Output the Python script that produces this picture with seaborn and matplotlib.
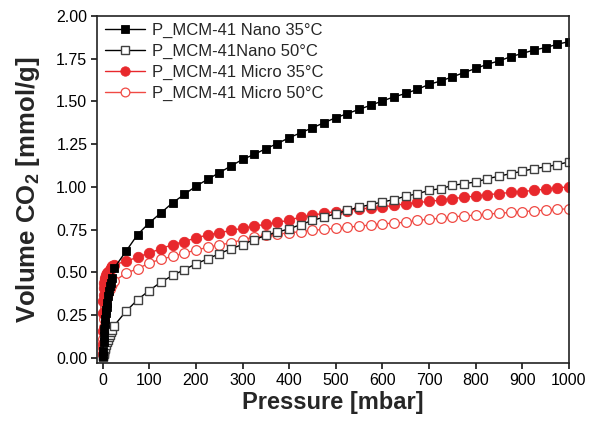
import numpy as np
import pandas as pd
import matplotlib
matplotlib.use("Agg")
import matplotlib.pyplot as plt
import seaborn as sns

# ---------------- data ----------------
p_grid = [25, 50, 75, 100, 125, 150, 175, 200, 225, 250, 275, 300, 325, 350, 375,
          400, 425, 450, 475, 500, 525, 550, 575, 600, 625, 650, 675, 700, 725, 750,
          775, 800, 825, 850, 875, 900, 925, 950, 975, 1000]

nano35_p_low = [0.5, 1, 2, 3, 4, 5, 6, 7, 8, 9, 10, 12, 14, 16, 18, 20]
nano35_v_low = [0.01, 0.04, 0.09, 0.13, 0.17, 0.20, 0.23, 0.26, 0.28, 0.30, 0.32,
                0.36, 0.39, 0.42, 0.44, 0.47]
nano35_v = [0.526, 0.623, 0.721, 0.790, 0.848, 0.907, 0.956, 1.004, 1.044, 1.083,
            1.122, 1.161, 1.190, 1.224, 1.254, 1.288, 1.317, 1.346, 1.376, 1.405,
            1.429, 1.454, 1.478, 1.503, 1.527, 1.547, 1.571, 1.600, 1.620, 1.644,
            1.669, 1.693, 1.718, 1.737, 1.762, 1.781, 1.801, 1.815, 1.835, 1.850]

nano50_p_low = [0.5, 1, 2, 3, 4, 5, 6, 8, 10, 12, 14, 16, 18, 20]
nano50_v_low = [0.005, 0.01, 0.02, 0.03, 0.04, 0.05, 0.06, 0.075, 0.09, 0.105,
                0.12, 0.135, 0.15, 0.165]
nano50_v = [0.189, 0.272, 0.340, 0.394, 0.443, 0.482, 0.516, 0.550, 0.579, 0.609,
            0.638, 0.663, 0.692, 0.716, 0.736, 0.755, 0.780, 0.804, 0.824, 0.843,
            0.863, 0.882, 0.897, 0.912, 0.926, 0.946, 0.960, 0.980, 0.990, 1.009,
            1.019, 1.029, 1.048, 1.063, 1.078, 1.092, 1.107, 1.117, 1.131, 1.146]

micro35_p_low = [0.2, 0.4, 0.6, 1, 1.5, 2, 3, 4, 5, 6, 8, 10, 12, 15, 18, 21]
micro35_v_low = [0.02, 0.08, 0.16, 0.26, 0.33, 0.37, 0.41, 0.44, 0.455, 0.47,
                 0.485, 0.495, 0.505, 0.515, 0.525, 0.535]
micro35_v = [0.545, 0.565, 0.589, 0.614, 0.638, 0.663, 0.680, 0.702, 0.719, 0.731,
             0.746, 0.758, 0.770, 0.782, 0.792, 0.806, 0.824, 0.835, 0.846, 0.856,
             0.862, 0.871, 0.877, 0.882, 0.893, 0.900, 0.909, 0.915, 0.923, 0.932,
             0.939, 0.947, 0.954, 0.961, 0.968, 0.973, 0.980, 0.987, 0.995, 1.000]

micro50_p_low = [0.3, 0.6, 1, 2, 3, 4, 5, 6, 8, 10, 12, 15, 18, 21]
micro50_v_low = [0.02, 0.06, 0.11, 0.18, 0.23, 0.26, 0.29, 0.31, 0.34, 0.36, 0.38,
                 0.40, 0.42, 0.435]
micro50_v = [0.448, 0.496, 0.521, 0.555, 0.577, 0.594, 0.612, 0.631, 0.646, 0.661,
             0.672, 0.692, 0.706, 0.716, 0.724, 0.731, 0.739, 0.746, 0.752, 0.758,
             0.765, 0.770, 0.778, 0.785, 0.788, 0.794, 0.804, 0.811, 0.817, 0.824,
             0.831, 0.835, 0.841, 0.846, 0.851, 0.856, 0.860, 0.864, 0.868, 0.873]

labels = ["P_MCM-41 Nano 35°C", "P_MCM-41Nano 50°C",
          "P_MCM-41 Micro 35°C", "P_MCM-41 Micro 50°C"]
x_ticks = [0, 100, 200, 300, 400, 500, 600, 700, 800, 900, 1000]
y_ticks = [0.00, 0.25, 0.50, 0.75, 1.00, 1.25, 1.50, 1.75, 2.00]

# ---------------- style ----------------
sns.set_theme(style="ticks")
plt.rcParams["font.family"] = ["Liberation Sans", "DejaVu Sans"]
plt.rcParams["mathtext.fontset"] = "custom"
plt.rcParams["mathtext.rm"] = "Liberation Sans"
plt.rcParams["mathtext.bf"] = "Liberation Sans:bold"

fig = plt.figure(figsize=(5.9, 4.29), dpi=100)
ax = fig.add_axes([97/590, 1 - 363/429, 472/590, 347/429])

def frame(p_low, v_low, v):
    return pd.DataFrame({"P": list(p_low) + p_grid, "V": list(v_low) + list(v)})

red = "#e8282c"
red_open = "#f04a44"

series = [
    (labels[3], frame(micro50_p_low, micro50_v_low, micro50_v),
     dict(color=red_open, marker="o", markersize=7, markerfacecolor="white",
          markeredgecolor=red_open, markeredgewidth=0.9)),
    (labels[2], frame(micro35_p_low, micro35_v_low, micro35_v),
     dict(color=red, marker="o", markersize=7.5, markerfacecolor=red,
          markeredgecolor=red, markeredgewidth=0.6)),
    (labels[1], frame(nano50_p_low, nano50_v_low, nano50_v),
     dict(color="black", marker="s", markersize=6.2, markerfacecolor="white",
          markeredgecolor="#404040", markeredgewidth=1.0)),
    (labels[0], frame(nano35_p_low, nano35_v_low, nano35_v),
     dict(color="black", marker="s", markersize=6.2, markerfacecolor="black",
          markeredgecolor="black", markeredgewidth=0.6)),
]

for lab, df, kw in series:
    sns.lineplot(data=df, x="P", y="V", ax=ax, label=lab, estimator=None,
                 sort=False, linewidth=1.0, **kw)

ax.set_xlim(-12, 1000)
ax.set_ylim(-0.03, 2.0)
ax.set_xticks(x_ticks)
ax.set_yticks(y_ticks)
ax.set_yticklabels([f"{t:.2f}" for t in y_ticks])
ax.tick_params(axis="both", direction="out", length=4, width=1.1,
               labelsize=11.5, colors="black", pad=3)
for s in ax.spines.values():
    s.set_linewidth(1.2)
    s.set_color("#222222")

ax.set_xlabel("Pressure [mbar]", fontsize=17, fontweight="bold", labelpad=2)
ax.set_ylabel(r"Volume CO$_\mathbf{2}$ [mmol/g]", fontsize=18.5,
              fontweight="bold", labelpad=10)

handles, labs = ax.get_legend_handles_labels()
order = [labs.index(l) for l in labels]
ax.legend([handles[i] for i in order], [labs[i] for i in order],
          loc="upper left", bbox_to_anchor=(0.01, 0.99), borderaxespad=0,
          borderpad=0.2, frameon=False, fontsize=12, handlelength=2.4,
          handletextpad=0.4, labelspacing=0.36, markerscale=0.9)

fig.savefig("out.png", dpi=100)
